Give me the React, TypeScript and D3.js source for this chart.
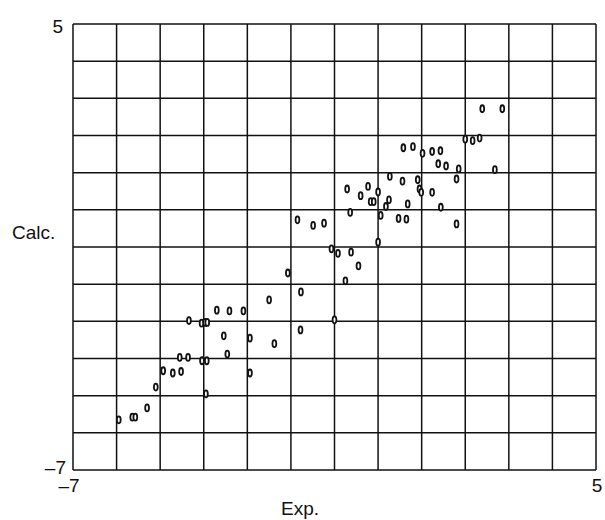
import React from "react";
import * as d3 from "d3";

const expValues = [
  -5.95, -5.64, -5.57, -5.30, -5.10, -4.93, -4.71, -4.52, -4.55, -4.36,
  -4.04, -3.93, -3.95, -4.34, -4.05, -3.97, -3.92, -3.70, -3.41, -3.09,
  -3.54, -3.46, -2.94, -2.94, -2.50, -2.38, -2.07, -1.77, -1.78, -1.85,
  -1.49, -1.24, -1.00, -1.07, -0.92, -0.62, -0.75, -0.45, -0.71, -0.64,
  -0.40, -0.23, -0.17, -0.10, 0.00, 0.00, 0.06, 0.18, 0.25, 0.27,
  0.47, 0.65, 0.56, 0.68, 0.58, 0.80, 0.91, 0.95, 0.99, 1.02,
  1.24, 1.43, 1.24, 1.38, 1.56, 1.44, 1.80, 1.80, 1.85, 2.00,
  2.17, 2.33, 2.68, 2.39, 2.85,
];
const calcValues = [
  -5.65, -5.58, -5.58, -5.33, -4.77, -4.33, -4.39, -4.35, -3.97, -3.97,
  -4.06, -4.06, -4.95, -2.98, -3.05, -3.03, -3.03, -2.70, -2.72, -2.72,
  -3.39, -3.88, -3.45, -4.39, -2.42, -3.60, -1.70, -2.21, -3.23, -0.27,
  -0.42, -0.36, -2.96, -1.05, -1.17, -1.14, -1.91, -1.51, 0.56, -0.07,
  0.38, 0.63, 0.22, 0.22, 0.48, -0.87, -0.15, 0.09, 0.27, 0.90,
  -0.23, -0.25, 0.77, 0.16, 1.67, 1.70, 0.81, 0.56, 0.47, 1.52,
  1.57, 1.59, 0.47, 1.24, 1.18, 0.07, 0.83, -0.38, 1.10, 1.90,
  1.86, 1.93, 1.08, 2.72, 2.72,
];

const axisMin = -7;
const axisMax = 5;
const xTickLabels = ["\u20137", "5"];
const yTickLabels = ["5", "\u20137"];
const xTitle = "Exp.";
const yTitle = "Calc.";

export default function App() {
  const W = 605;
  const H = 520;
  const x = d3.scaleLinear().domain([axisMin, axisMax]).range([73, 596]);
  const y = d3.scaleLinear().domain([axisMin, axisMax]).range([470, 24]);
  const grid = d3.range(axisMin, axisMax + 1);
  const pts = expValues.map((e, i) => ({ e, c: calcValues[i] }));
  const font = "Liberation Sans, Arial, sans-serif";
  const ink = "#111";

  return (
    <div style={{ position: "absolute", left: 0, top: 0 }}>
      <svg width={W} height={H} style={{ display: "block", background: "#fff" }}>
        <g>
          {grid.map((g) => (
            <line key={"v" + g} x1={x(g)} x2={x(g)} y1={y(axisMin)} y2={y(axisMax)} stroke={ink} strokeWidth={1.5} />
          ))}
          {grid.map((g) => (
            <line key={"h" + g} x1={x(axisMin)} x2={x(axisMax)} y1={y(g)} y2={y(g)} stroke={ink} strokeWidth={1.5} />
          ))}
        </g>
        <g>
          {pts.map((p, i) => (
            <ellipse key={i} cx={x(p.e)} cy={y(p.c)} rx={1.9} ry={3.5} fill="#fff" stroke={ink} strokeWidth={1.8} />
          ))}
        </g>
        <g fontFamily={font} fontSize={19} fill={ink}>
          <text x={63} y={33} textAnchor="end">{yTickLabels[0]}</text>
          <text x={66} y={474} textAnchor="end">{yTickLabels[1]}</text>
          <text x={x(axisMin) - 4} y={492} textAnchor="middle">{xTickLabels[0]}</text>
          <text x={x(axisMax) + 1} y={492} textAnchor="middle">{xTickLabels[1]}</text>
          <text x={300} y={515} textAnchor="middle">{xTitle}</text>
          <text x={12} y={239}>{yTitle}</text>
        </g>
      </svg>
    </div>
  );
}
